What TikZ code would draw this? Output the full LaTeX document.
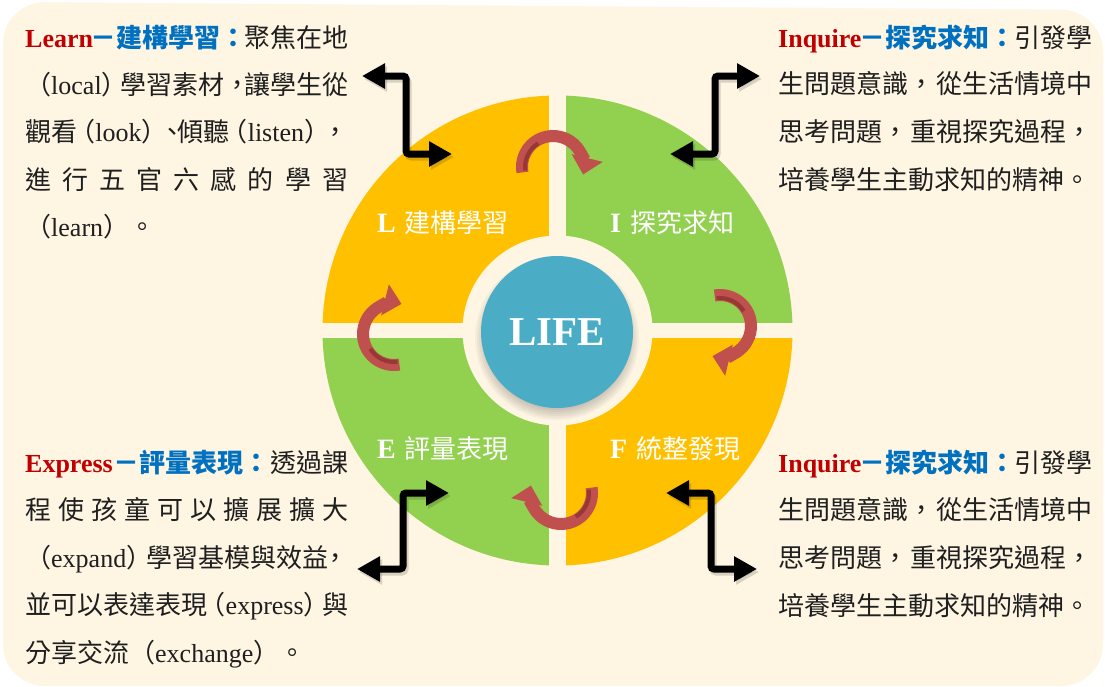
\documentclass[tikz,border=0pt]{standalone}
\usepackage{fontspec}
\setmainfont{Liberation Serif}
\newfontfamily\cjk{Noto Sans CJK TC}
\usetikzlibrary{arrows.meta}
\definecolor{cream}{RGB}{254,245,227}
\definecolor{qyellow}{RGB}{255,192,0}
\definecolor{qgreen}{RGB}{146,208,80}
\definecolor{lifeblue}{RGB}{75,172,198}
\definecolor{arrred}{RGB}{192,80,77}
\definecolor{arrdark}{RGB}{150,56,54}
\definecolor{tred}{RGB}{192,0,0}
\definecolor{tblue}{RGB}{0,112,192}
\newcommand\gp{\hskip 0pt plus 1fil minus 10pt}
\newcommand\lat[1]{{\rmfamily #1}}
\newcommand\ttl[2]{{\rmfamily\bfseries\color{tred}#1}\gp{\bfseries\color{tblue}－#2：}\gp}
\newcommand\redcurl[1]{%
  \begin{scope}[shift={(557,330)}, rotate=#1]
    \draw[redarc] (-4,-163) ++(170:31) arc[start angle=170, end angle=374, radius=31];
    \draw[darkstripe] (-4,-163) ++(173:28) arc[start angle=173, end angle=238, radius=28];
  \end{scope}}
\tikzset{
  txt/.style={anchor=base west, inner sep=0pt, text=black!88, font=\cjk\fontsize{26}{30}\selectfont},
  qlab/.style={anchor=base west, inner sep=0pt, text=white},
  blk/.style={draw=black, line width=7pt, rounded corners=3pt,
    {Triangle[length=23pt,width=24pt]}-{Triangle[length=23pt,width=24pt]}},
  blkshadow/.style={blk, draw=black, fill=none, opacity=0.15, transform canvas={shift={(2pt,-3pt)}}},
  redarc/.style={draw=arrred, line width=12pt, -{Triangle[length=17pt,width=31pt]}},
  darkstripe/.style={draw=arrdark, line width=4pt},
}
\begin{document}
\begin{tikzpicture}[x=1pt,y=-1pt]
\useasboundingbox (0,0) rectangle (1105,686);
\fill[white] (0,0) rectangle (1105,686);
\fill[cream, rounded corners=42pt] (3,2) -- (1103,10) -- (1103,686) -- (3,686) -- cycle;

% quadrants
\fill[qyellow] (557.5,330.5) -- (322.5,330.5) arc[start angle=180, end angle=270, radius=235] -- cycle;
\fill[qgreen] (557.5,330.5) -- (557.5,95.5) arc[start angle=270, end angle=360, radius=235] -- cycle;
\fill[qyellow] (557.5,330.5) -- (792.5,330.5) arc[start angle=0, end angle=90, radius=235] -- cycle;
\fill[qgreen] (557.5,330.5) -- (557.5,565.5) arc[start angle=90, end angle=180, radius=235] -- cycle;
\fill[cream] (549,88) rectangle (566,572);
\fill[cream] (318,322.7) rectangle (797,338.3);
\fill[cream] (557.5,330.5) circle[radius=95];

% LIFE circle with soft shadow
\foreach \r in {70,72,...,82} \fill[black, opacity=0.035] (557,338) circle[radius=\r];
\node[circle, fill=lifeblue, minimum size=152pt, inner sep=0pt, text=white,
      font=\rmfamily\bfseries\fontsize{41}{41}\selectfont] (life) at (557,332) {LIFE};

% quadrant labels
\node[qlab] (labL) at (377,232) {{\rmfamily\bfseries\fontsize{28}{28}\selectfont L}\hspace{9pt}{\cjk\fontsize{26}{26}\selectfont 建構學習}};
\node[qlab] (labI) at (610,232) {{\rmfamily\bfseries\fontsize{28}{28}\selectfont I}\hspace{9pt}{\cjk\fontsize{26}{26}\selectfont 探究求知}};
\node[qlab] (labE) at (377,458) {{\rmfamily\bfseries\fontsize{28}{28}\selectfont E}\hspace{9pt}{\cjk\fontsize{26}{26}\selectfont 評量表現}};
\node[qlab] (labF) at (610,458) {{\rmfamily\bfseries\fontsize{28}{28}\selectfont F}\hspace{9pt}{\cjk\fontsize{26}{26}\selectfont 統整發現}};

% red curved arrows
\redcurl{0}
\redcurl{-90}
\redcurl{-180}
\redcurl{-270}

% black elbow arrows
\coordinate (tlA) at (362,76); \coordinate (tlM) at (406,115); \coordinate (tlB) at (452,154);
\coordinate (trA) at (760,76); \coordinate (trM) at (715,115); \coordinate (trB) at (670,154);
\coordinate (blA) at (449,493); \coordinate (blM) at (403,531); \coordinate (blB) at (357,569);
\coordinate (brA) at (666,493); \coordinate (brM) at (711,531); \coordinate (brB) at (757,569);
\foreach \p in {tl,tr,bl,br} {
  \draw[blkshadow] (\p A) -| (\p M) |- (\p B);
  \draw[blk] (\p A) -| (\p M) |- (\p B);
}

% text blocks
\node[txt] (tl1) at (25,47) {\hbox to 323pt{\ttl{Learn}{建構學習}聚焦在地}};
\node[txt] (tl2) at (25,94) {\hbox to 323pt{（\lat{local}）\gp 學習素材，\gp 讓學生從}};
\node[txt] (tl3) at (25,141) {\hbox to 323pt{觀看\gp（\lat{look}）\gp、\gp 傾聽\gp（\lat{listen}）\gp，}};
\node[txt] (tl4) at (25,189) {\hbox to 323pt{進\hfill 行\hfill 五\hfill 官\hfill 六\hfill 感\hfill 的\hfill 學\hfill 習}};
\node[txt] (tl5) at (25,236) {（\lat{learn}）。};

\node[txt] (tr1) at (778,47) {\hbox to 314pt{\ttl{Inquire}{探究求知}引發學}};
\node[txt] (tr2) at (778,93) {\hbox to 314pt{生問題意識，\gp 從生活情境中}};
\node[txt] (tr3) at (778,141) {\hbox to 314pt{思考問題，\gp 重視探究過程，}};
\node[txt] (tr4) at (778,189) {培養學生主動求知的精神。};

\node[txt] (bl1) at (25,472) {\hbox to 323pt{\ttl{Express}{評量表現}透過課}};
\node[txt] (bl2) at (25,519) {\hbox to 323pt{程\hfill 使\hfill 孩\hfill 童\hfill 可\hfill 以\hfill 擴\hfill 展\hfill 擴\hfill 大}};
\node[txt] (bl3) at (25,567) {\hbox to 323pt{（\lat{expand}）\gp 學習基模與效益\gp ，}};
\node[txt] (bl4) at (25,614) {\hbox to 323pt{並可以表達表現\gp（\lat{express}）\gp 與}};
\node[txt] (bl5) at (25,662) {分享交流（\lat{exchange}）。};

\node[txt] (br1) at (778,472) {\hbox to 314pt{\ttl{Inquire}{探究求知}引發學}};
\node[txt] (br2) at (778,519) {\hbox to 314pt{生問題意識，\gp 從生活情境中}};
\node[txt] (br3) at (778,567) {\hbox to 314pt{思考問題，\gp 重視探究過程，}};
\node[txt] (br4) at (778,615) {培養學生主動求知的精神。};
\end{tikzpicture}
\end{document}
